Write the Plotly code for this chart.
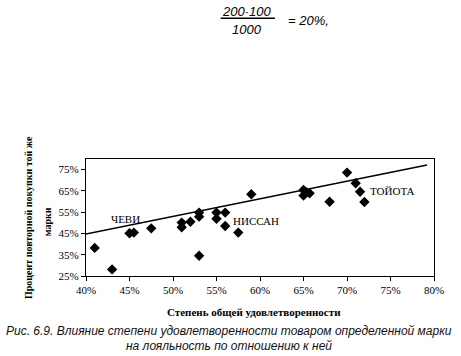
import plotly.graph_objects as go

# Data (percent values)
satisfaction = [41, 43, 45, 45.5, 47.5, 51, 51, 52, 53, 53, 53, 55, 55, 56, 56, 57.5,
                59, 65, 65, 65.3, 65.7, 68, 70, 71, 71.5, 72]
repurchase = [38.2, 28.1, 45.1, 45.4, 47.4, 50.1, 47.9, 50.5, 54.8, 52.9, 34.5, 54.8, 51.9,
              54.8, 48.5, 45.4, 63.4, 65.4, 62.8, 64.4, 63.9, 59.9, 73.6, 68.6, 64.6, 59.8]
trend_x = [40, 79.2]
trend_y = [44.7, 77.2]
brand_names = ["ЧЕВИ", "НИССАН", "ТОЙОТА"]
brand_x = [44.5, 59.5, 75.2]
brand_y = [51.8, 51.0, 64.8]
x_ticks = [40, 45, 50, 55, 60, 65, 70, 75, 80]
x_tick_labels = ["40%", "45%", "50%", "55%", "60%", "65%", "70%", "75%", "80%"]
y_ticks = [25, 35, 45, 55, 65, 75]
y_tick_labels = ["25%", "35%", "45%", "55%", "65%", "75%"]

SERIF = "Liberation Serif, Times New Roman, serif"
SANS = "Liberation Sans, Arial, sans-serif"

fig = go.Figure()
fig.add_trace(go.Scatter(x=trend_x, y=trend_y, mode="lines",
                         line=dict(color="black", width=1.6), showlegend=False,
                         hoverinfo="skip", cliponaxis=False))
fig.add_trace(go.Scatter(x=satisfaction, y=repurchase, mode="markers",
                         marker=dict(symbol="diamond", size=8, color="black"),
                         showlegend=False))

for name, bx, by in zip(brand_names, brand_x, brand_y):
    fig.add_annotation(x=bx, y=by, text=name, showarrow=False,
                       font=dict(family=SERIF, size=11, color="black"))

axis_common = dict(showline=True, linecolor="black", linewidth=1.4, mirror=True,
                   showgrid=False, zeroline=False, ticks="outside", ticklen=4,
                   tickcolor="black",
                   tickfont=dict(family=SERIF, size=11, color="black"))
fig.update_xaxes(range=[40, 80], tickvals=x_ticks, ticktext=x_tick_labels, **axis_common)
fig.update_yaxes(range=[25, 80], tickvals=y_ticks, ticktext=y_tick_labels, **axis_common)

# axis titles
fig.add_annotation(xref="paper", yref="paper", x=0.483, y=-0.308, yanchor="middle",
                   text="<b>Степень общей удовлетворенности</b>", showarrow=False,
                   font=dict(family=SERIF, size=11, color="black"))
fig.add_annotation(xref="paper", yref="paper", x=-0.185, y=0.496, textangle=-90,
                   text="<b>Процент повторной покупки той же</b>", showarrow=False,
                   font=dict(family=SERIF, size=10, color="black"))
fig.add_annotation(xref="paper", yref="paper", x=-0.13, y=0.462, textangle=-90,
                   text="<b>марки</b>", showarrow=False,
                   font=dict(family=SERIF, size=10, color="black"))

# caption
fig.add_annotation(xref="paper", yref="paper", x=0.411, y=-0.474, yanchor="middle",
                   text="<i>Рис. 6.9. Влияние степени удовлетворенности товаром определенной марки</i>",
                   showarrow=False, font=dict(family=SANS, size=12, color="#111"))
fig.add_annotation(xref="paper", yref="paper", x=0.411, y=-0.598, yanchor="middle",
                   text="<i>на лояльность по отношению к ней</i>",
                   showarrow=False, font=dict(family=SANS, size=12, color="#111"))

# formula at the top
fig.add_annotation(xref="paper", yref="paper", x=0.462, y=2.263, yanchor="middle",
                   text="<i>200·100</i>", showarrow=False,
                   font=dict(family=SANS, size=13, color="black"))
fig.add_annotation(xref="paper", yref="paper", x=0.464, y=2.109, yanchor="middle",
                   text="<i>1000</i>", showarrow=False,
                   font=dict(family=SANS, size=13, color="black"))
fig.add_annotation(xref="paper", yref="paper", x=0.575, y=2.181, xanchor="left", yanchor="middle",
                   text="<i>= 20%,</i>", showarrow=False,
                   font=dict(family=SANS, size=13, color="black"))
fig.add_shape(type="line", xref="paper", yref="paper", x0=0.387, x1=0.543, y0=2.203, y1=2.203,
              line=dict(color="black", width=1.3))

fig.update_layout(width=461, height=356, margin=dict(l=86, r=27, t=159, b=80),
                  paper_bgcolor="white", plot_bgcolor="white")
fig.write_html("out.html", config={"displayModeBar": False},
               post_script="document.body.style.margin='0';")
